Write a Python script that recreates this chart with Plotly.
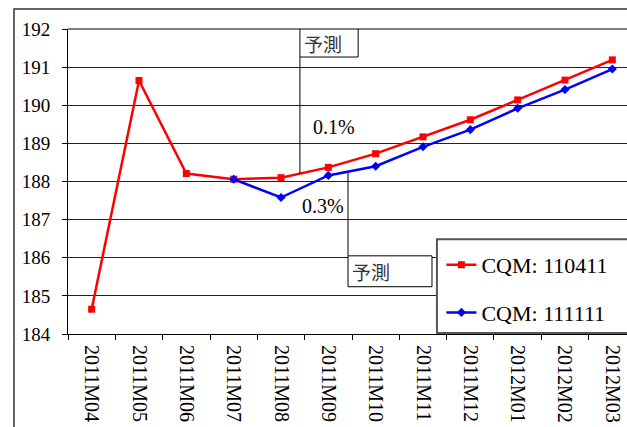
import plotly.graph_objects as go

# Monthly index values, two forecast vintages
months = ["2011M04", "2011M05", "2011M06", "2011M07", "2011M08", "2011M09",
          "2011M10", "2011M11", "2011M12", "2012M01", "2012M02", "2012M03"]
cqm_110411 = [184.65, 190.65, 188.21, 188.06, 188.10, 188.37,
              188.73, 189.17, 189.62, 190.14, 190.66, 191.19]
months_111111 = ["2011M07", "2011M08", "2011M09", "2011M10", "2011M11",
                 "2011M12", "2012M01", "2012M02", "2012M03"]
cqm_111111 = [188.06, 187.58, 188.16, 188.40, 188.91,
              189.36, 189.92, 190.41, 190.95]
y_ticks = [184, 185, 186, 187, 188, 189, 190, 191, 192]
forecast_label = "予測"
growth_labels = ["0.1%", "0.3%"]

SERIF = "Times New Roman, Liberation Serif, serif"
CJK = "Noto Sans CJK JP"

fig = go.Figure()
fig.add_trace(go.Scatter(
    x=months, y=cqm_110411, mode="lines+markers", name="CQM: 110411",
    legendgroup="a",
    line=dict(color="#ff0000", width=2.5),
    marker=dict(symbol="square", size=7, color="#ff0000"),
))
fig.add_trace(go.Scatter(
    x=months_111111, y=cqm_111111, mode="lines+markers", name="CQM: 111111",
    legendgroup="b",
    line=dict(color="#0000ff", width=2.5),
    marker=dict(symbol="diamond", size=7, color="#0000ff"),
))

# helper: interpolate a series at a fractional category position
def at(series_x, series_y, pos):
    idx = [months.index(m) for m in series_x]
    for k in range(len(idx) - 1):
        if idx[k] <= pos <= idx[k + 1]:
            t = (pos - idx[k]) / (idx[k + 1] - idx[k])
            return series_y[k] + t * (series_y[k + 1] - series_y[k])
    return series_y[-1]

shapes = []
# outer chart frame
shapes.append(dict(type="rect", xref="paper", yref="paper",
                   x0=-0.0966, x1=1.2, y0=-0.5, y1=1.0656,
                   line=dict(color="#333333", width=1.5), layer="below"))
# top border of plot area
shapes.append(dict(type="line", xref="paper", yref="paper",
                   x0=0, x1=1, y0=1, y1=1, line=dict(color="#000", width=1)))

# callout 1: forecast box pointing to the red line
p1 = 4.40
shapes.append(dict(type="line", xref="x", yref="y", x0=p1, x1=p1,
                   y0=at(months, cqm_110411, p1), y1=191.265,
                   line=dict(color="#000", width=1)))
shapes.append(dict(type="rect", xref="x", yref="y", x0=p1, x1=5.63,
                   y0=191.265, y1=192, fillcolor="white",
                   line=dict(color="#000", width=1)))
# callout 2: forecast box pointing to the blue line
p2 = 5.416
shapes.append(dict(type="line", xref="x", yref="y", x0=p2, x1=p2,
                   y0=at(months_111111, cqm_111111, p2), y1=186.05,
                   line=dict(color="#000", width=1)))
shapes.append(dict(type="rect", xref="x", yref="y", x0=p2, x1=7.19,
                   y0=185.24, y1=186.05, fillcolor="white",
                   line=dict(color="#000", width=1)))
# legend frame
shapes.append(dict(type="rect", xref="paper", yref="paper",
                   x0=0.66, x1=1.2, y0=0.003, y1=0.311, fillcolor="white",
                   line=dict(color="#555555", width=2)))

annotations = [
    dict(x=p1, y=191.63, xref="x", yref="y", text=forecast_label,
         showarrow=False, xanchor="left", xshift=2,
         font=dict(family=CJK, size=19, color="#333")),
    dict(x=p2, y=185.65, xref="x", yref="y", text=forecast_label,
         showarrow=False, xanchor="left", xshift=2,
         font=dict(family=CJK, size=19, color="#333")),
    dict(x=5.12, y=189.42, xref="x", yref="y", text=growth_labels[0],
         showarrow=False, font=dict(family=SERIF, size=20, color="#000")),
    dict(x=4.885, y=187.35, xref="x", yref="y", text=growth_labels[1],
         showarrow=False, font=dict(family=SERIF, size=20, color="#000")),
]

fig.update_layout(
    width=627, height=427,
    margin=dict(l=68, r=0, t=29, b=93),
    paper_bgcolor="white", plot_bgcolor="white",
    showlegend=True,
    legend=dict(x=0.668, y=0.295, xanchor="left", yanchor="top",
                bgcolor="rgba(0,0,0,0)", borderwidth=0,
                traceorder="grouped", tracegroupgap=16,
                font=dict(family=SERIF, size=22, color="#000")),
    shapes=shapes, annotations=annotations,
    xaxis=dict(type="category", categoryorder="array", categoryarray=months,
               range=[-0.5, 11.31], showgrid=False,
               showline=True, linecolor="#000", linewidth=1,
               ticks="outside", ticklen=5, tickcolor="#000", tickson="boundaries",
               ticklabelstandoff=6,
               tickangle=90, tickfont=dict(family=SERIF, size=20, color="#000")),
    yaxis=dict(range=[184, 192], tickvals=y_ticks,
               showgrid=True, gridcolor="#222", gridwidth=1,
               showline=True, linecolor="#000", linewidth=1,
               ticks="outside", ticklen=5, tickcolor="#000",
               ticklabelstandoff=8,
               zeroline=False,
               tickfont=dict(family=SERIF, size=19, color="#000")),
)

fig.write_html("out.html")
